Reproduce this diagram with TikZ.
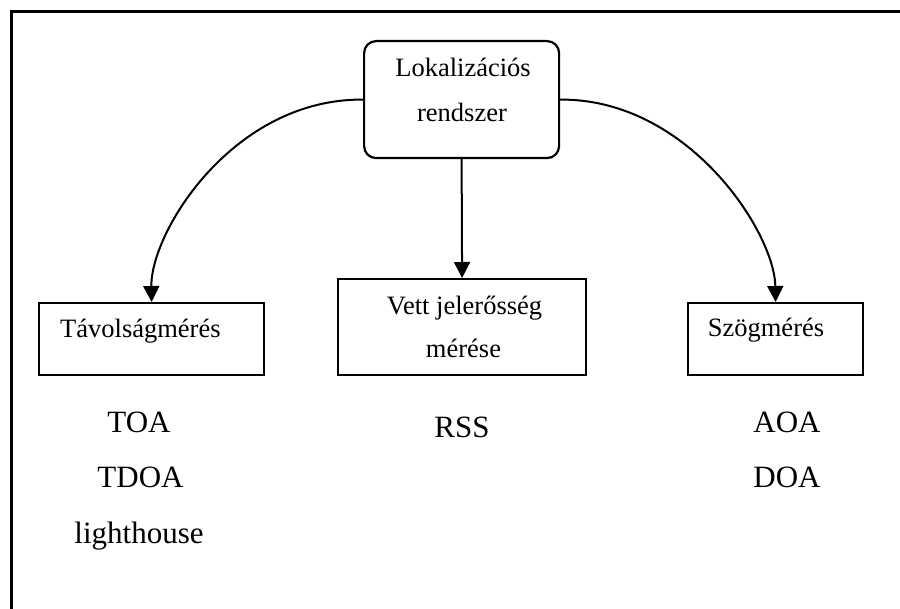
\documentclass[tikz,border=0pt]{standalone}
\usepackage{fontspec}
\setmainfont{Liberation Serif}
\usetikzlibrary{arrows.meta}
\begin{document}
\begin{tikzpicture}[x=1pt,y=-1pt,
  frame/.style={line width=2.2pt},
  box/.style={draw, line width=2.2pt, inner sep=0pt, anchor=north west},
  boxtext/.style={font=\fontsize{26.5}{32}\selectfont, inner sep=0pt, anchor=base},
  itemtext/.style={font=\fontsize{31}{37}\selectfont, inner sep=0pt, anchor=base},
  link/.style={line width=2pt, -{Triangle[width=16pt,length=16pt]}}]
\useasboundingbox (0,0) rectangle (900,609);

% open frame: top and left edges only
\draw[frame] (11.5,609) -- (11.5,11.5) -- (900,11.5);

% boxes
\node[box, rounded corners=12pt, minimum width=195pt, minimum height=117pt] (lok) at (363,40) {};
\node[box, minimum width=225pt, minimum height=72pt] (tav) at (38,302) {};
\node[box, minimum width=248pt, minimum height=96pt] (vett) at (337,278) {};
\node[box, minimum width=175pt, minimum height=72pt] (szog) at (687,302) {};

% box labels
\node[boxtext] (lok1) at (463,76.7) {Lokalizációs};
\node[boxtext] (lok2) at (462,121.7) {rendszer};
\node[boxtext, anchor=base west] (tavt) at (60,338) {Távolságmérés};
\node[boxtext] (vett1) at (464.5,315) {Vett jelerősség};
\node[boxtext] (vett2) at (463.5,358) {mérése};
\node[boxtext] (szogt) at (766,337) {Szögmérés};

% methods under each box
\node[itemtext] (toa) at (139,433) {TOA};
\node[itemtext] (tdoa) at (140.5,488) {TDOA};
\node[itemtext] (lh) at (139,543) {lighthouse};
\node[itemtext] (rss) at (462,438) {RSS};
\node[itemtext] (aoa) at (787,433) {AOA};
\node[itemtext] (doa) at (787,488) {DOA};

% connectors
\draw[link] (lok.west) .. controls (233,98.5) and (150.5,232) .. (tav.north);
\draw[link] (lok.east) .. controls (688,98.5) and (774.5,232) .. (szog.north);
\draw[link] (lok.south) -- (vett.north);
\end{tikzpicture}
\end{document}
